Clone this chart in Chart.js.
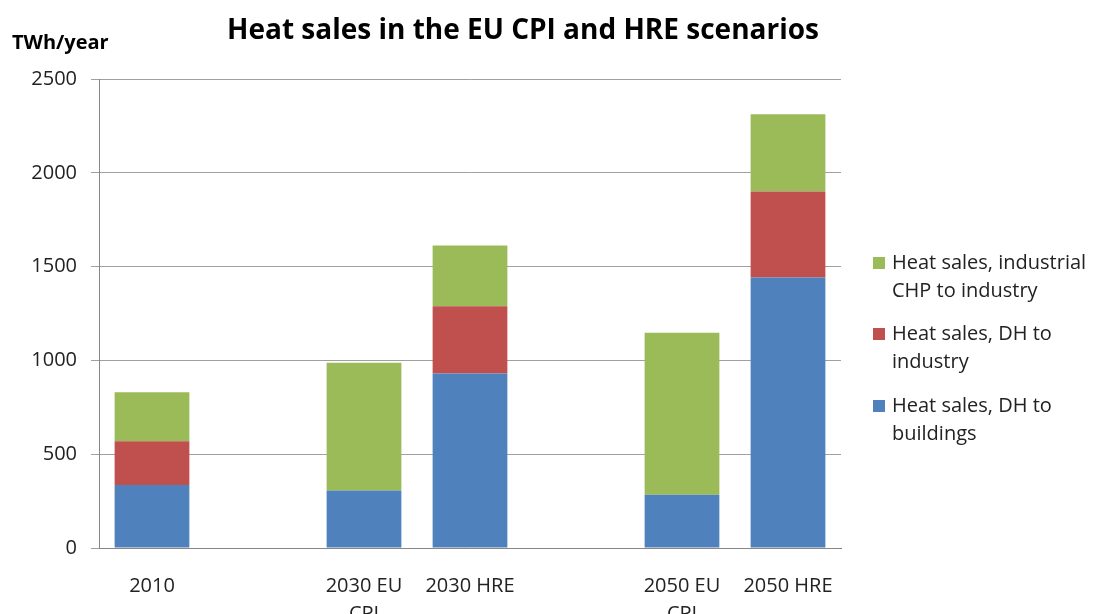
<!DOCTYPE html>
<html>
<head>
<meta charset="utf-8">
<script src="https://cdn.jsdelivr.net/npm/chart.js@4"></script>
<style>
  html, body { margin: 0; padding: 0; background: #fff; overflow: hidden; }
  #wrap { width: 1094px; height: 614px; }
</style>
</head>
<body>
<div id="wrap"><canvas id="myChart" width="1094" height="614"></canvas></div>
<script>
const categorias = ["2010", "", ["2030 EU", "CPI"], "2030 HRE", "", ["2050 EU", "CPI"], "2050 HRE"];
const dhEdificios = [336, null, 307, 930, null, 284, 1442];
const dhIndustria = [233, null, 0, 358, null, 0, 458];
const chpIndustria = [261, null, 680, 325, null, 863, 412];
const textosLeyenda = [
  ["Heat sales, DH to", "buildings"],
  ["Heat sales, DH to", "industry"],
  ["Heat sales, industrial", "CHP to industry"],
];
const titulo = "Heat sales in the EU CPI and HRE scenarios";
const unidad = "TWh/year";

const fuente = "'Open Sans', 'Noto Sans', sans-serif";
const colores = ["#4F81BD", "#C0504D", "#9BBB59"];

const ctx = document.getElementById("myChart").getContext("2d");

// titulo, unidad y leyenda dibujados a mano
const extras = {
  id: "extras",
  afterDraw(chart) {
    const c = chart.ctx;
    c.save();
    c.fillStyle = "#000";
    c.textBaseline = "middle";
    c.font = "bold 28px " + fuente;
    c.textAlign = "center";
    c.fillText(titulo, 523, 31);
    c.font = "bold 20px " + fuente;
    c.textAlign = "left";
    c.fillText(unidad, 12, 43);

    c.font = "20px " + fuente;
    const filas = [263, 334, 406];
    chart.data.datasets.slice().reverse().forEach((ds, i) => {
      const idx = chart.data.datasets.length - 1 - i;
      const y = filas[i];
      c.fillStyle = ds.backgroundColor;
      c.fillRect(873, y - 6, 12, 12);
      c.fillStyle = "#222";
      textosLeyenda[idx].forEach((linea, j) => {
        c.fillText(linea, 892, y + j * 28);
      });
    });
    c.restore();
  },
};

new Chart(ctx, {
  type: "bar",
  data: {
    labels: categorias,
    datasets: [
      { label: textosLeyenda[0].join(" "), data: dhEdificios, backgroundColor: colores[0] },
      { label: textosLeyenda[1].join(" "), data: dhIndustria, backgroundColor: colores[1] },
      { label: textosLeyenda[2].join(" "), data: chpIndustria, backgroundColor: colores[2] },
    ],
  },
  options: {
    responsive: false,
    animation: false,
    layout: { padding: { top: 79, right: 253, left: 0, bottom: 0 } },
    datasets: {
      bar: { barPercentage: 0.705, categoryPercentage: 1.0 },
    },
    plugins: {
      legend: { display: false },
      title: { display: false },
      tooltip: { enabled: false },
    },
    scales: {
      x: {
        stacked: true,
        grid: { display: false },
        border: { display: true, color: "#868686" },
        ticks: {
          color: "#222",
          font: { family: fuente, size: 20, lineHeight: 1.4 },
          padding: 16,
          maxRotation: 0,
          autoSkip: false,
        },
        afterFit: (s) => { s.height = 66; },
      },
      y: {
        stacked: true,
        min: 0,
        max: 2500,
        grid: { color: "#a0a0a0", tickLength: 8, drawTicks: true },
        border: { display: true, color: "#868686" },
        ticks: {
          stepSize: 500,
          color: "#222",
          font: { family: fuente, size: 20 },
          padding: 14,
          callback: (v) => String(v),
        },
        afterFit: (s) => { s.width = 99; },
      },
    },
  },
  plugins: [extras],
});
</script>
</body>
</html>
